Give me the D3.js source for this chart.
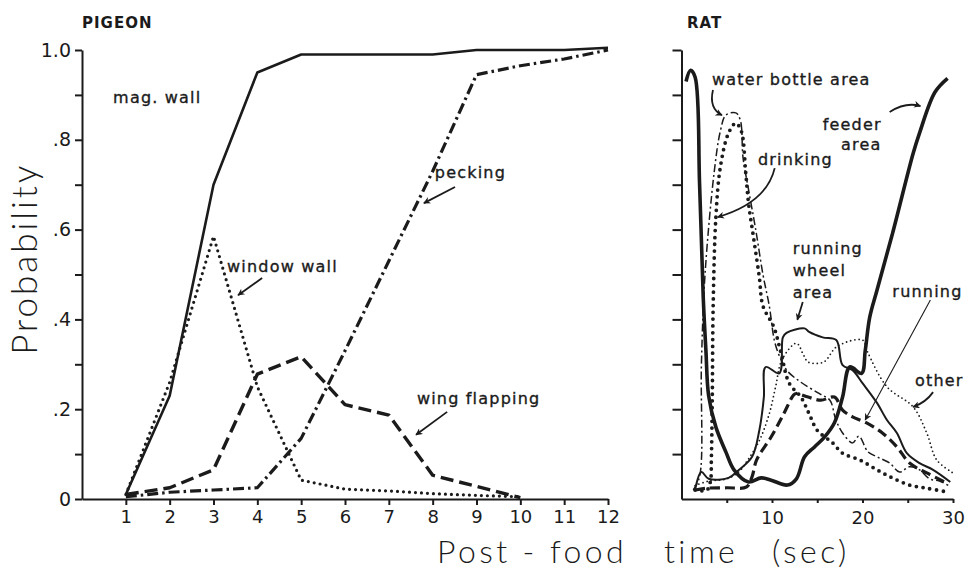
<!DOCTYPE html>
<html>
<head>
<meta charset="utf-8">
<script src="https://cdn.jsdelivr.net/npm/d3@7"></script>
<style>
  body { margin: 0; background: #fff; }
  svg { display: block; }
  .tick text { font-family: "DejaVu Sans", sans-serif; }
</style>
</head>
<body>
<div id="chart"></div>
<script>
// PIGEON data (x = post-food time, 1..12)
const pigeonTimes = [1, 2, 3, 4, 5, 6, 7, 8, 9, 10, 11, 12];
const magWall     = [0.01, 0.23, 0.70, 0.95, 0.99, 0.99, 0.99, 0.99, 1.00, 1.00, 1.00, 1.005];
const windowWall  = [0.01, 0.26, 0.585, 0.25, 0.042, 0.022, 0.018, 0.012, 0.008, 0.005];
const wingFlap    = [0.01, 0.025, 0.065, 0.278, 0.317, 0.21, 0.187, 0.053, 0.028, 0.003];
const pecking     = [0.005, 0.015, 0.02, 0.025, 0.135, 0.33, 0.53, 0.73, 0.945, 0.965, 0.98, 1.0];

// RAT data, [sec, probability]
const feederArea = [[0.5,0.93],[1.0,0.955],[1.5,0.94],[2.0,0.70],[2.4,0.45],[2.7,0.33],[3.0,0.23],
  [3.8,0.16],[4.9,0.105],[5.8,0.065],[7.4,0.038],[8.8,0.047],[9.9,0.042],[11.7,0.031],[12.7,0.045],
  [13.6,0.094],[14.7,0.116],[15.8,0.138],[16.9,0.17],[17.8,0.227],[18.6,0.294],[19.9,0.28],
  [20.3,0.33],[20.8,0.405],[21.6,0.465],[23.3,0.59],[25.6,0.77],[26.3,0.815],[28.0,0.906],[29.4,0.937]];
const waterBottle = [[1.3,0.02],[2.0,0.05],[2.2,0.30],[2.6,0.50],[3.6,0.726],[4.3,0.82],[4.9,0.855],
  [6.0,0.86],[6.5,0.844],[6.8,0.76],[7.4,0.69],[8.2,0.60],[9.0,0.50],[9.7,0.43],[10.3,0.35],
  [11.0,0.31],[11.7,0.285],[13.2,0.26],[15.2,0.235],[16.4,0.22],[17.0,0.18],[17.7,0.15],[18.9,0.125],
  [19.6,0.14],[20.6,0.105],[21.6,0.094],[23.0,0.08],[24.1,0.06],[25.2,0.072],[26.3,0.065],
  [27.4,0.045],[28.5,0.04],[29.5,0.03]];
const drinking = [[1.5,0.02],[2.8,0.02],[3.2,0.04],[3.3,0.09],[3.4,0.22],[3.5,0.43],[3.8,0.628],
  [4.3,0.74],[5.2,0.815],[6.0,0.837],[6.6,0.82],[7.1,0.726],[7.4,0.66],[8.0,0.577],[8.6,0.494],
  [9.0,0.43],[10.2,0.383],[11.0,0.325],[11.9,0.258],[13.2,0.227],[14.1,0.19],[15.0,0.153],
  [16.7,0.125],[17.8,0.102],[19.7,0.087],[21.6,0.065],[23.3,0.047],[25.2,0.031],[27.1,0.024],[29.3,0.016]];
const wheelArea = [[1.5,0.02],[2.2,0.06],[3.0,0.045],[5.2,0.047],[6.3,0.064],[7.8,0.094],[8.6,0.153],
  [9.1,0.227],[9.3,0.294],[10.8,0.28],[11.2,0.36],[11.6,0.37],[13.6,0.38],[14.1,0.372],[15.6,0.36],
  [17.1,0.354],[17.8,0.298],[18.9,0.287],[20.0,0.258],[21.6,0.214],[22.7,0.176],[23.8,0.147],
  [24.9,0.102],[26.3,0.08],[27.8,0.065],[29.7,0.038]];
const running = [[1.5,0.02],[2.7,0.024],[5.0,0.025],[7.2,0.027],[7.8,0.05],[8.3,0.087],[9.9,0.138],
  [11.3,0.19],[12.4,0.232],[12.7,0.235],[14.0,0.227],[15.4,0.22],[16.9,0.227],[17.8,0.198],
  [18.9,0.183],[20.4,0.17],[22.2,0.147],[23.8,0.116],[25.2,0.08],[27.1,0.058],[29.3,0.036]];
const other = [[1.5,0.03],[3.0,0.04],[5.0,0.045],[6.3,0.06],[7.1,0.08],[8.6,0.13],[9.7,0.19],
  [10.4,0.25],[11.1,0.31],[12.7,0.347],[13.5,0.32],[14.0,0.305],[15.7,0.305],[17.2,0.34],
  [20.0,0.354],[20.5,0.33],[22.7,0.25],[25.6,0.205],[27.1,0.147],[28.2,0.087],[30.0,0.058]];

const yTicks = d3.range(0, 11).map(d => d / 10);
const yLabels = {0: "0", 0.2: ".2", 0.4: ".4", 0.6: ".6", 0.8: ".8", 1: "1.0"};
const ratTicks = [5, 10, 15, 20, 25, 30];
const ratLabels = [10, 20, 30];

const W = 968, H = 571;
const ink = "#1b1b1b";

const svg = d3.select("#chart").append("svg")
  .attr("width", W).attr("height", H)
  .attr("viewBox", [0, 0, W, H].join(" "));

// arrow head
svg.append("defs").append("marker")
  .attr("id", "head")
  .attr("viewBox", "0 0 10 10")
  .attr("refX", 9).attr("refY", 5)
  .attr("markerWidth", 10).attr("markerHeight", 7)
  .attr("markerUnits", "userSpaceOnUse")
  .attr("orient", "auto")
  .append("path").attr("d", "M0,0 L10,5 L0,10 L3,5 Z").attr("fill", ink);

// scales
const xP = d3.scaleLinear().domain([0, 12]).range([82, 608]);
const xR = d3.scaleLinear().domain([0, 30]).range([681.5, 953]);
const y = d3.scaleLinear().domain([0, 1]).range([499, 50]);

// ---- PIGEON axes
const pyAxis = svg.append("g")
  .attr("transform", `translate(${xP(0)},0)`)
  .call(d3.axisLeft(y).tickValues(yTicks).tickSize(7).tickSizeOuter(0).tickPadding(4)
    .tickFormat(d => yLabels[Math.round(d * 10) / 10] || ""));
pyAxis.selectAll("text").style("font-size", "19px").attr("fill", ink);

const pxAxis = svg.append("g")
  .attr("transform", `translate(0,${y(0)})`)
  .call(d3.axisBottom(xP).tickValues(pigeonTimes).tickSize(6).tickSizeOuter(0).tickPadding(5)
    .tickFormat(d3.format("d")));
pxAxis.selectAll("text").style("font-size", "18px").attr("fill", ink);

// ---- RAT axes
svg.append("g")
  .attr("transform", `translate(${xR(0)},0)`)
  .call(d3.axisLeft(y).tickValues(yTicks.slice(1)).tickSize(9).tickSizeOuter(0).tickFormat(""));

const rxAxis = svg.append("g")
  .attr("transform", `translate(0,${y(0)})`)
  .call(d3.axisBottom(xR).tickValues(ratTicks).tickSize(4).tickSizeOuter(0).tickPadding(8)
    .tickFormat(d => ratLabels.includes(d) ? d : ""));
rxAxis.selectAll("text").style("font-size", "18px").attr("fill", ink);

svg.selectAll(".domain, .tick line").attr("stroke", ink).attr("stroke-width", 2);

// ---- PIGEON lines
const lineP = d3.line().x(d => xP(d[0])).y(d => y(d[1]));
const pair = vals => vals.map((v, i) => [pigeonTimes[i], v]);

const pigeonSeries = [
  { data: pair(magWall),    width: 2.6, dash: null },
  { data: pair(windowWall), width: 3.2, dash: "0 6", cap: "round" },
  { data: pair(wingFlap),   width: 3.4, dash: "13 6" },
  { data: pair(pecking),    width: 3.2, dash: "11 4 2.5 4" }
];
svg.append("g").selectAll("path").data(pigeonSeries).join("path")
  .attr("d", d => lineP(d.data))
  .attr("fill", "none").attr("stroke", ink)
  .attr("stroke-width", d => d.width)
  .attr("stroke-dasharray", d => d.dash)
  .attr("stroke-linecap", d => d.cap || "butt")
  .attr("stroke-linejoin", "round");

// ---- RAT lines
const lineR = d3.line().x(d => xR(d[0])).y(d => y(d[1])).curve(d3.curveCatmullRom.alpha(0.5));
const ratSeries = [
  { data: other,       width: 1.8, dash: "0 4.2", cap: "round" },
  { data: waterBottle, width: 1.5, dash: "8 3 2 3" },
  { data: wheelArea,   width: 2.0, dash: null },
  { data: running,     width: 3.2, dash: "10 5" },
  { data: drinking,    width: 3.8, dash: "0 6.8", cap: "round" },
  { data: feederArea,  width: 3.6, dash: null }
];
svg.append("g").selectAll("path").data(ratSeries).join("path")
  .attr("d", d => lineR(d.data))
  .attr("fill", "none").attr("stroke", ink)
  .attr("stroke-width", d => d.width)
  .attr("stroke-dasharray", d => d.dash)
  .attr("stroke-linecap", d => d.cap || "butt")
  .attr("stroke-linejoin", "round");

// ---- text
const lab = (x, yy, t, size, opts = {}) => svg.append("text")
  .attr("x", x).attr("y", yy).text(t)
  .attr("fill", ink)
  .attr("stroke", opts.stroke ? ink : null)
  .attr("stroke-width", opts.stroke || null)
  .attr("text-anchor", opts.anchor || "start")
  .style("font-family", opts.family || "'DejaVu Sans', sans-serif")
  .style("font-size", size + "px")
  .style("font-weight", opts.weight || "normal")
  .style("letter-spacing", (opts.ls || 0) + "px");

lab(82, 28, "PIGEON", 15, { weight: "bold", ls: 1 });
lab(687, 28, "RAT", 15, { weight: "bold", ls: 1 });

// axis titles
const light = "Lato, 'DejaVu Sans', sans-serif";
svg.append("text")
  .attr("transform", `translate(37,${y(0.535)}) rotate(-90)`)
  .attr("text-anchor", "middle")
  .attr("fill", ink)
  .style("font-family", light)
  .style("font-weight", 300)
  .style("font-size", "35px")
  .style("letter-spacing", "3px")
  .text("Probability");
lab(437, 563, "Post - food", 32, { family: light, weight: 300, ls: 3.4 });
lab(664, 563, "time", 32, { family: light, weight: 300, ls: 3.4 });
lab(772, 563, "(sec)", 32, { family: light, weight: 300, ls: 3.4 });

// annotations (positions in data units)
const annP = [
  { t: "mag. wall",     x: 0.71, p: 0.882 },
  { t: "window wall",   x: 3.31, p: 0.506 },
  { t: "pecking",       x: 8.05, p: 0.715 },
  { t: "wing flapping", x: 7.64, p: 0.212 }
];
annP.forEach(a => lab(xP(a.x), y(a.p), a.t, 16, { ls: 1.2, stroke: 0.35 }));

const annR = [
  { t: "water bottle area", x: 3.37, p: 0.922, anchor: "start" },
  { t: "feeder", x: 15.6, p: 0.822, anchor: "start" },
  { t: "area",   x: 22.1, p: 0.778, anchor: "end" },
  { t: "drinking", x: 8.45, p: 0.744, anchor: "start" },
  { t: "running", x: 12.3, p: 0.546, anchor: "start" },
  { t: "wheel",   x: 12.3, p: 0.497, anchor: "start" },
  { t: "area",    x: 12.3, p: 0.448, anchor: "start" },
  { t: "running", x: 23.3, p: 0.45,  anchor: "start" },
  { t: "other",   x: 25.8, p: 0.252, anchor: "start" }
];
annR.forEach(a => lab(xR(a.x), y(a.p), a.t, 16, { ls: 1.2, anchor: a.anchor, stroke: 0.35 }));

// arrows: [from, control, to] in data units
const arrowsP = [
  [[4.11, 0.492], null, [3.56, 0.454]],
  [[8.51, 0.695], null, [7.80, 0.659]],
  [[8.33, 0.194], null, [7.62, 0.143]]
];
const arrowsR = [
  [[3.48, 0.911], [3.0, 0.87], [4.47, 0.855], 1.8],
  [[23.0, 0.862], [24.8, 0.885], [26.4, 0.875], 1.8],
  [[10.3, 0.737], [9.4, 0.66], [4.0, 0.628], 1.8],
  [[13.4, 0.439], null, [12.8, 0.399], 1.8],
  [[27.5, 0.443], null, [20.3, 0.176], 1.1],
  [[27.8, 0.238], [27.0, 0.215], [25.6, 0.205], 1.8]
];
const arrowPath = (a, sx) => {
  const [f, c, t] = a;
  const p = d3.path();
  p.moveTo(sx(f[0]), y(f[1]));
  if (c) p.quadraticCurveTo(sx(c[0]), y(c[1]), sx(t[0]), y(t[1]));
  else p.lineTo(sx(t[0]), y(t[1]));
  return p.toString();
};
const arrows = arrowsP.map(a => ({ d: arrowPath(a, xP), w: 1.8 }))
  .concat(arrowsR.map(a => ({ d: arrowPath(a, xR), w: a[3] })));
svg.append("g").selectAll("path").data(arrows).join("path")
  .attr("d", d => d.d)
  .attr("fill", "none").attr("stroke", ink)
  .attr("stroke-width", d => d.w)
  .attr("marker-end", "url(#head)");
</script>
</body>
</html>
